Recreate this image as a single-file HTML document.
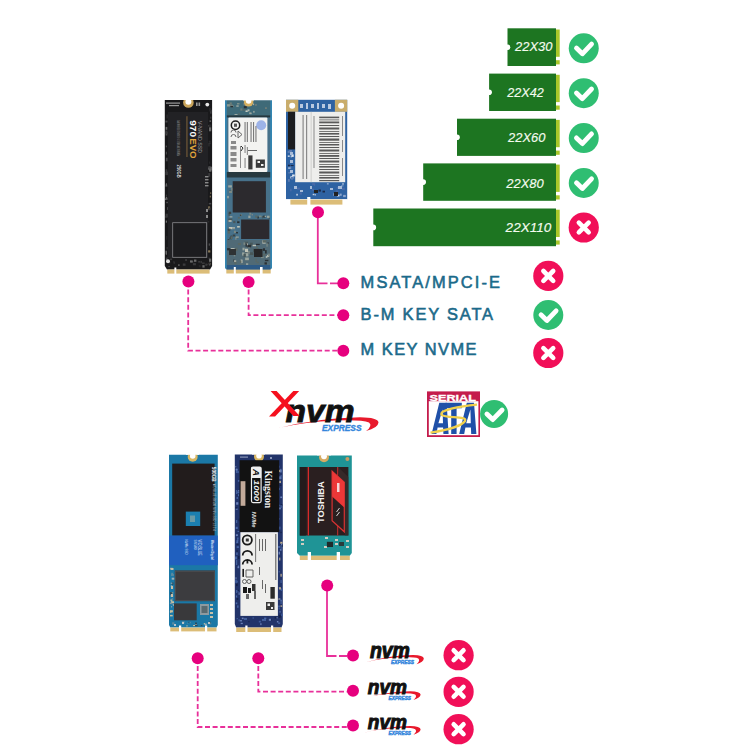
<!DOCTYPE html>
<html><head><meta charset="utf-8">
<style>
html,body{margin:0;padding:0;background:#fff;width:750px;height:750px;overflow:hidden;}
svg{display:block;font-family:"Liberation Sans",sans-serif;}
</style></head>
<body>
<svg width="750" height="750" viewBox="0 0 750 750">
<defs>
  <g id="chk"><circle r="15" fill="#2fbe72"/><path d="M-7.3 -0.2 L-1.4 5.5 L7.8 -4.2" fill="none" stroke="#fff" stroke-width="4.8" stroke-linecap="round" stroke-linejoin="round"/></g>
  <g id="crs"><circle r="15.1" fill="#f10f58"/><path d="M-4.9 -4.9 L4.9 4.9 M4.9 -4.9 L-4.9 4.9" fill="none" stroke="#fff" stroke-width="4.6" stroke-linecap="round"/></g>
  <g id="nvm">
    <path d="M279 428 Q318 418 360 417.3 Q378 417.5 378.5 422.5 Q378 428 366 431 Q373 426 369 422.5 Q362 419.5 335 420.5 Q305 422 281 427.5 Z" fill="#e8192c"/>
    <text x="285.5" y="422" font-size="32" font-weight="bold" font-style="italic" fill="#111" stroke="#111" stroke-width="0.8" textLength="69" lengthAdjust="spacingAndGlyphs">nvm</text>
    <text x="322" y="431" font-size="8.4" font-weight="bold" font-style="italic" fill="#3486dc" stroke="#3486dc" stroke-width="0.35" textLength="39.5" lengthAdjust="spacingAndGlyphs">EXPRESS</text>
  </g>
  <g id="nvms">
    <path d="M279 428 Q318 418 360 417.3 Q378 417.5 378.5 422.5 Q378 428 366 431 Q373 426 369 422.5 Q362 419.5 335 420.5 Q305 422 281 427.5 Z" fill="#e8192c"/>
    <text x="285.5" y="422" font-size="32" font-weight="bold" font-style="italic" fill="#111" stroke="#111" stroke-width="1.6" textLength="69" lengthAdjust="spacingAndGlyphs">nvm</text>
    <text x="322" y="431" font-size="8.4" font-weight="bold" font-style="italic" fill="#3486dc" stroke="#3486dc" stroke-width="0.7" textLength="39.5" lengthAdjust="spacingAndGlyphs">EXPRESS</text>
  </g>
</defs>

<!-- ================= green size bars ================= -->
<g>
  <g fill="#1d7521">
    <rect x="507.5" y="28.3" width="48.5" height="37.7"/>
    <rect x="489.1" y="73.6" width="66.9" height="37.4"/>
    <rect x="457" y="118.7" width="99" height="37.2"/>
    <rect x="423.2" y="163.4" width="132.8" height="37.4"/>
    <rect x="373.3" y="208.5" width="182.7" height="37.7"/>
  </g>
  <g fill="#fff">
    <circle cx="507.5" cy="47.2" r="2.8"/><circle cx="489.1" cy="92.3" r="2.8"/><circle cx="457" cy="137.3" r="2.8"/><circle cx="423.2" cy="182.1" r="2.8"/><circle cx="373.3" cy="227.4" r="2.8"/>
  </g>
  <g fill="#a9c72a">
    <rect x="556" y="29.5" width="3.7" height="27.3"/><rect x="556" y="60.2" width="3.7" height="4.2"/>
    <rect x="556" y="74.8" width="3.7" height="27.3"/><rect x="556" y="105.5" width="3.7" height="4.2"/>
    <rect x="556" y="119.9" width="3.7" height="27.3"/><rect x="556" y="150.6" width="3.7" height="4.2"/>
    <rect x="556" y="164.6" width="3.7" height="27.3"/><rect x="556" y="195.3" width="3.7" height="4.2"/>
    <rect x="556" y="209.7" width="3.7" height="27.3"/><rect x="556" y="240.4" width="3.7" height="4.2"/>
  </g>
  <g fill="#f4fbef" font-size="13.4" font-style="italic" stroke="#f4fbef" stroke-width="0.15">
    <text x="515" y="51.1" textLength="37.4" lengthAdjust="spacingAndGlyphs">22X30</text>
    <text x="507.3" y="97" textLength="36.4" lengthAdjust="spacingAndGlyphs">22X42</text>
    <text x="508" y="142.3" textLength="37.4" lengthAdjust="spacingAndGlyphs">22X60</text>
    <text x="506.3" y="187.8" textLength="37.4" lengthAdjust="spacingAndGlyphs">22X80</text>
    <text x="505.6" y="231.6" textLength="45.7" lengthAdjust="spacingAndGlyphs">22X110</text>
  </g>
  <use href="#chk" x="583.75" y="48.3"/>
  <use href="#chk" x="583.75" y="93.2"/>
  <use href="#chk" x="583.75" y="138.1"/>
  <use href="#chk" x="583.75" y="183"/>
  <use href="#crs" x="583.75" y="227.5"/>
</g>

<!-- ================= TOP SSDs ================= -->
<!-- Samsung 970 EVO -->
<g id="samsung">
  <path d="M164.8 100 H212.1 V266 L210 269.6 H167 L164.8 266 Z" fill="#19191b"/>
  <rect x="168" y="112" width="40" height="146" fill="#222225"/>
  <rect x="172.7" y="222.7" width="34" height="34.6" fill="#1c1c1f" stroke="#8a8a8e" stroke-width="0.8"/>
  <circle cx="188.4" cy="102.5" r="5.3" fill="#c9a45a"/><circle cx="188.4" cy="101.8" r="3" fill="#fff"/><rect x="182" y="95" width="13" height="5" fill="#fff"/>
  <g fill="#9a9a9a"><rect x="166" y="102.5" width="14" height="1.2"/><rect x="169" y="105" width="10" height="1.2"/><rect x="196" y="102.5" width="1.6" height="3.5"/><rect x="198.5" y="102.5" width="1.6" height="3.5"/></g>
  <rect x="165.3" y="250.8" width="1.4" height="1.7" fill="#2a2a2c"/><rect x="166.0" y="197.8" width="1.7" height="2.2" fill="#4a4a4c"/><rect x="165.5" y="132.0" width="1.9" height="3.5" fill="#4a4a4c"/><rect x="165.1" y="215.8" width="2.5" height="2.0" fill="#3a3a3c"/><rect x="165.9" y="151.7" width="1.0" height="2.8" fill="#4a4a4c"/><rect x="166.0" y="194.6" width="0.9" height="2.1" fill="#3a3a3c"/><rect x="166.4" y="259.2" width="1.0" height="3.7" fill="#3a3a3c"/><rect x="165.0" y="198.3" width="1.3" height="1.7" fill="#6a6a6a"/><rect x="165.2" y="130.5" width="2.3" height="3.5" fill="#3a3a3c"/><rect x="165.7" y="169.2" width="1.5" height="3.0" fill="#3a3a3c"/><rect x="167.0" y="171.0" width="0.9" height="1.2" fill="#2a2a2c"/><rect x="165.9" y="157.7" width="1.7" height="3.6" fill="#4a4a4c"/><rect x="165.6" y="213.7" width="2.2" height="3.1" fill="#3a3a3c"/><rect x="165.4" y="172.0" width="2.5" height="3.1" fill="#3a3a3c"/><rect x="166.0" y="257.7" width="1.8" height="2.3" fill="#4a4a4c"/><rect x="165.8" y="220.6" width="1.2" height="2.1" fill="#6a6a6a"/><rect x="166.1" y="252.0" width="0.9" height="3.0" fill="#4a4a4c"/><rect x="165.6" y="250.7" width="1.3" height="3.7" fill="#6a6a6a"/><rect x="165.4" y="120.6" width="2.1" height="1.9" fill="#4a4a4c"/><rect x="165.8" y="145.6" width="1.2" height="1.7" fill="#4a4a4c"/><rect x="165.6" y="126.9" width="1.7" height="2.9" fill="#6a6a6a"/><rect x="166.1" y="201.8" width="1.9" height="1.4" fill="#4a4a4c"/><rect x="166.3" y="247.0" width="1.7" height="2.5" fill="#2a2a2c"/><rect x="167.0" y="207.1" width="0.9" height="2.8" fill="#4a4a4c"/><rect x="166.4" y="114.5" width="1.5" height="3.9" fill="#2a2a2c"/><rect x="166.7" y="256.8" width="1.2" height="2.2" fill="#2a2a2c"/><rect x="166.2" y="236.1" width="1.1" height="3.6" fill="#2a2a2c"/><rect x="165.4" y="184.6" width="1.9" height="2.2" fill="#4a4a4c"/><rect x="165.9" y="183.3" width="1.0" height="2.4" fill="#6a6a6a"/><rect x="165.8" y="197.0" width="1.3" height="1.7" fill="#6a6a6a"/><rect x="208.6" y="143.0" width="1.9" height="1.1" fill="#3a3a3c"/><rect x="208.2" y="173.1" width="2.0" height="3.7" fill="#3a3a3c"/><rect x="209.8" y="195.7" width="1.0" height="1.7" fill="#8a7a5a"/><rect x="208.7" y="243.4" width="1.5" height="2.3" fill="#4a4a4c"/><rect x="208.3" y="257.3" width="2.0" height="2.0" fill="#2a2a2c"/><rect x="209.1" y="161.6" width="1.0" height="2.1" fill="#2a2a2c"/><rect x="209.0" y="258.6" width="2.2" height="3.2" fill="#6a6a6a"/><rect x="209.9" y="246.2" width="0.9" height="1.9" fill="#2a2a2c"/><rect x="208.1" y="143.3" width="1.8" height="3.1" fill="#2a2a2c"/><rect x="209.3" y="166.7" width="2.5" height="3.6" fill="#6a6a6a"/><rect x="208.8" y="140.7" width="1.9" height="2.1" fill="#2a2a2c"/><rect x="208.1" y="206.4" width="2.0" height="3.1" fill="#8a7a5a"/><rect x="208.8" y="262.9" width="2.0" height="1.5" fill="#8a7a5a"/><rect x="210.2" y="116.7" width="1.2" height="2.0" fill="#3a3a3c"/><rect x="208.1" y="250.3" width="2.2" height="2.2" fill="#8a7a5a"/><rect x="209.1" y="169.8" width="2.3" height="1.9" fill="#6a6a6a"/><rect x="210.2" y="192.4" width="1.0" height="1.4" fill="#8a7a5a"/><rect x="208.9" y="262.8" width="1.5" height="2.8" fill="#4a4a4c"/><rect x="208.1" y="125.2" width="1.7" height="1.3" fill="#4a4a4c"/><rect x="208.1" y="167.4" width="2.1" height="2.3" fill="#6a6a6a"/><rect x="210.0" y="109.8" width="1.7" height="3.9" fill="#3a3a3c"/><rect x="208.5" y="207.6" width="2.0" height="2.6" fill="#3a3a3c"/><rect x="208.0" y="221.0" width="1.3" height="1.5" fill="#2a2a2c"/><rect x="208.8" y="124.5" width="2.5" height="3.3" fill="#2a2a2c"/><rect x="208.4" y="166.1" width="2.2" height="2.5" fill="#4a4a4c"/><rect x="209.2" y="108.1" width="1.7" height="3.3" fill="#2a2a2c"/><rect x="208.9" y="262.4" width="1.6" height="1.3" fill="#2a2a2c"/><rect x="209.6" y="120.3" width="1.2" height="1.7" fill="#6a6a6a"/><rect x="209.0" y="127.4" width="2.2" height="3.9" fill="#6a6a6a"/><rect x="208.8" y="202.9" width="2.4" height="1.5" fill="#4a4a4c"/><rect x="173.7" y="261.7" width="1.1" height="2.0" fill="#3a3a3c"/><rect x="168.7" y="261.6" width="1.9" height="1.7" fill="#2a2a2c"/><rect x="202.4" y="265.2" width="2.2" height="2.4" fill="#6a6a6a"/><rect x="200.5" y="260.9" width="1.4" height="2.3" fill="#3a3a3c"/><rect x="173.1" y="261.0" width="1.3" height="2.3" fill="#2a2a2c"/><rect x="169.9" y="258.5" width="2.2" height="1.6" fill="#3a3a3c"/><rect x="202.0" y="262.5" width="2.7" height="1.4" fill="#3a3a3c"/><rect x="192.9" y="263.1" width="3.0" height="2.2" fill="#3a3a3c"/><rect x="199.3" y="265.3" width="1.2" height="1.9" fill="#2a2a2c"/><rect x="185.2" y="259.0" width="1.7" height="2.0" fill="#3a3a3c"/><rect x="190.7" y="261.3" width="2.6" height="1.1" fill="#4a4a4c"/><rect x="206.4" y="263.9" width="2.3" height="1.1" fill="#2a2a2c"/><rect x="205.3" y="263.6" width="2.0" height="2.2" fill="#3a3a3c"/><rect x="198.2" y="261.0" width="1.9" height="1.6" fill="#3a3a3c"/><rect x="190.0" y="260.4" width="2.7" height="2.1" fill="#6a6a6a"/><rect x="168.1" y="266.0" width="1.9" height="1.1" fill="#3a3a3c"/><rect x="198.7" y="265.4" width="1.3" height="1.0" fill="#2a2a2c"/><rect x="178.3" y="264.2" width="1.2" height="1.8" fill="#6a6a6a"/><rect x="182.8" y="263.5" width="2.7" height="2.3" fill="#3a3a3c"/><rect x="194.0" y="259.5" width="2.4" height="2.3" fill="#6a6a6a"/><circle cx="207.3" cy="104.6" r="1.9" fill="#e8e8e8"/>
  <circle cx="168" cy="261.3" r="2" fill="#e0e0e0"/>
  <rect x="186.5" y="116.2" width="0.9" height="40.8" fill="#8a6a3e"/>
  <g transform="translate(189.2 120.2) rotate(90)">
    <text x="0" y="0" font-size="9.5" font-weight="bold" fill="#fff" textLength="16.8" lengthAdjust="spacingAndGlyphs" transform="translate(0 -0.5)">970</text>
    <text x="18" y="-0.5" font-size="9.5" font-weight="bold" fill="#e0a43c" textLength="20.4" lengthAdjust="spacingAndGlyphs">EVO</text>
  </g>
  <g transform="translate(198.4 121) rotate(90)"><text x="0" y="0" font-size="5.6" fill="#a8a8aa" textLength="32" lengthAdjust="spacingAndGlyphs">V-NAND SSD</text></g>
  <g transform="translate(176.8 120) rotate(90)"><text x="0" y="0" font-size="2.8" fill="#8a8a8a" textLength="36" lengthAdjust="spacingAndGlyphs">SAMSUNG ELECTRONICS CO. LTD MADE IN KOREA</text></g>
  <g transform="translate(177 164.6) rotate(90)"><text x="0" y="0" font-size="5" font-weight="bold" fill="#dcdcdc" textLength="13" lengthAdjust="spacingAndGlyphs">250GB</text></g>
  <g fill="#8a8a8a"><rect x="205" y="176" width="3.5" height="1.4"/><rect x="205" y="179" width="3.5" height="1.4"/><rect x="205" y="182" width="3.5" height="1.4"/><rect x="205" y="185" width="3.5" height="1.4"/><rect x="206" y="209" width="2" height="3"/><rect x="206" y="215" width="2" height="3"/></g>
  <rect x="167.3" y="269.6" width="42.3" height="4" fill="#dcbd78"/>
  <rect x="174.4" y="267.5" width="1.9" height="6.5" fill="#fff"/>
</g>

<!-- M.2 SATA -->
<g id="sata">
  <path d="M225 100.5 H272 V267 L270.5 269.7 H226.5 L225 267 Z" fill="#47718a"/>
  <rect x="225" y="100.5" width="1.8" height="168" fill="#3386b2"/>
  <rect x="270.2" y="100.5" width="1.8" height="168" fill="#3386b2"/>
  <rect x="226.8" y="100.5" width="43.4" height="15.4" fill="#3f6a78"/>
  <rect x="265.0" y="107.2" width="1.9" height="1.8" fill="#6e7c78"/><rect x="253.2" y="110.9" width="1.4" height="1.8" fill="#9aa6a0"/><rect x="249.1" y="112.5" width="1.9" height="1.2" fill="#8a9890"/><rect x="245.5" y="110.4" width="2.2" height="1.6" fill="#c8ccc0"/><rect x="229.6" y="102.4" width="2.2" height="2.2" fill="#6e7c78"/><rect x="240.3" y="108.4" width="2.2" height="2.2" fill="#6e7c78"/><rect x="247.5" y="109.3" width="2.0" height="2.0" fill="#b0b8b0"/><rect x="249.4" y="112.6" width="2.3" height="1.6" fill="#9aa6a0"/><rect x="236.3" y="105.3" width="2.4" height="1.5" fill="#9aa6a0"/><rect x="231.4" y="105.4" width="2.1" height="1.2" fill="#9aa6a0"/><rect x="227.0" y="104.2" width="2.9" height="2.3" fill="#8a9890"/><rect x="243.3" y="102.8" width="1.9" height="2.5" fill="#6e7c78"/><rect x="230.5" y="105.9" width="2.6" height="1.4" fill="#2a3034"/><rect x="237.0" y="103.2" width="2.5" height="1.2" fill="#8a9890"/><rect x="255.0" y="104.1" width="1.9" height="1.7" fill="#6e7c78"/><rect x="243.8" y="106.1" width="3.0" height="2.2" fill="#2a3034"/><rect x="238.1" y="113.4" width="1.8" height="1.3" fill="#5a6864"/><rect x="234.5" y="114.0" width="3.0" height="1.0" fill="#9aa6a0"/><rect x="245.5" y="102.1" width="1.1" height="1.2" fill="#3a4446"/><rect x="230.0" y="104.4" width="2.7" height="1.6" fill="#6e7c78"/><rect x="253.1" y="103.5" width="1.0" height="1.6" fill="#b0b8b0"/><rect x="242.6" y="109.4" width="2.7" height="1.2" fill="#5a6864"/>
  <rect x="182" y="95" width="0" height="0"/>
  <circle cx="248.6" cy="101.8" r="4.8" fill="#d6b060"/><circle cx="248.6" cy="101" r="2.8" fill="#fff"/>
  <rect x="243" y="96" width="11" height="4.5" fill="#fff"/>
  <rect x="226.8" y="115.4" width="43.4" height="2" fill="#26383e"/>
  <rect x="228.4" y="117.5" width="39" height="54.5" rx="1" fill="#f3f3f1"/>
  <circle cx="235.5" cy="125.2" r="4.2" fill="none" stroke="#1e1e1e" stroke-width="1.5"/>
  <rect x="234" y="123.6" width="3" height="3.2" fill="#555"/>
  <circle cx="261.2" cy="125.2" r="5" fill="#9db3e8"/>
  <g fill="none" stroke="#666" stroke-width="1"><path d="M231 132.5 A2.5 2.5 0 0 1 236 132.5 M231 137 A2.5 2.5 0 0 1 236 137"/><path d="M238 131 L242 134.5 L238 138 Z"/></g>
  <g fill="#7a7a7a"><rect x="244.5" y="122" width="1.1" height="20"/><rect x="246.8" y="122" width="1.1" height="20"/><rect x="250.5" y="122" width="1.1" height="20"/><rect x="253" y="122" width="1.1" height="20"/><rect x="255.4" y="126" width="1.1" height="16"/></g>
  <g fill="#8a8a8a"><rect x="231" y="141" width="5" height="3"/><rect x="230.5" y="146" width="6" height="3.5"/><rect x="230.5" y="152" width="6" height="4"/><rect x="230.5" y="158" width="6" height="3.5"/><rect x="230.5" y="164" width="6" height="3"/><rect x="240" y="146" width="1" height="22"/><rect x="244.5" y="145" width="1.1" height="8"/><rect x="246.8" y="147" width="1.1" height="8"/></g>
  <path d="M241 146 L243 148 L241 151" stroke="#333" stroke-width="1" fill="none"/>
  <rect x="248.3" y="155.4" width="4.2" height="14" fill="#3a3a3a"/>
  <rect x="244.5" y="158" width="1.1" height="10" fill="#8a8a8a"/>
  <rect x="255.8" y="159.5" width="9.1" height="8.3" fill="#3a3a3a"/><rect x="257.5" y="161" width="2.5" height="2" fill="#f3f3f1"/><rect x="261" y="164" width="2.5" height="2" fill="#f3f3f1"/>
  <rect x="248" y="150" width="9" height="0.9" fill="#555"/>
  <rect x="226.8" y="172" width="43.4" height="5.5" fill="#26383e"/>
  <rect x="229.2" y="190.5" width="2.7" height="2.4" fill="#3a4446"/><rect x="228.3" y="218.5" width="4.0" height="2.1" fill="#48585a"/><rect x="229.0" y="190.8" width="3.0" height="2.2" fill="#7a8884"/><rect x="227.8" y="228.8" width="2.4" height="1.8" fill="#2a3034"/><rect x="228.4" y="213.4" width="1.7" height="2.4" fill="#48585a"/><rect x="230.5" y="235.7" width="1.7" height="2.9" fill="#2a3034"/><rect x="231.1" y="187.8" width="1.7" height="3.0" fill="#7a8884"/><rect x="228.9" y="227.0" width="3.9" height="2.2" fill="#c0c4b8"/><rect x="228.2" y="185.3" width="3.7" height="2.2" fill="#9aa6a0"/><rect x="228.7" y="211.7" width="2.5" height="2.3" fill="#3a4446"/><rect x="227.6" y="247.8" width="3.1" height="1.3" fill="#5a6864"/><rect x="229.5" y="237.4" width="2.4" height="1.9" fill="#3a4446"/><rect x="228.4" y="228.6" width="2.1" height="1.8" fill="#48585a"/><rect x="229.6" y="216.2" width="2.8" height="1.3" fill="#9aa6a0"/><rect x="227.2" y="195.9" width="1.6" height="2.4" fill="#9aa6a0"/><rect x="227.7" y="239.1" width="1.8" height="2.2" fill="#3a4446"/><rect x="229.0" y="241.8" width="2.6" height="2.1" fill="#9aa6a0"/><rect x="228.0" y="220.1" width="2.6" height="1.6" fill="#48585a"/><rect x="227.6" y="258.5" width="2.7" height="2.9" fill="#5a6864"/><rect x="227.9" y="231.0" width="2.0" height="2.6" fill="#5a6864"/><rect x="227.4" y="247.5" width="3.8" height="2.6" fill="#9aa6a0"/><rect x="231.3" y="265.6" width="1.6" height="2.3" fill="#9aa6a0"/><rect x="230.6" y="236.2" width="1.9" height="2.9" fill="#5a6864"/><rect x="228.5" y="220.2" width="3.1" height="1.6" fill="#c0c4b8"/><rect x="228.6" y="242.7" width="2.4" height="2.4" fill="#7a8884"/><rect x="228.1" y="260.3" width="2.2" height="2.8" fill="#9aa6a0"/>
  <rect x="232.7" y="181.2" width="33.2" height="31.3" fill="#2c2a2e"/>
  <rect x="257.3" y="216.5" width="1.5" height="2.0" fill="#2a3034"/><rect x="263.2" y="215.6" width="2.3" height="2.0" fill="#2a3034"/><rect x="240.6" y="214.2" width="1.3" height="1.8" fill="#7a8884"/><rect x="268.6" y="217.2" width="1.3" height="2.0" fill="#48585a"/><rect x="261.9" y="216.1" width="1.3" height="2.3" fill="#48585a"/><rect x="237.9" y="216.9" width="1.9" height="1.7" fill="#5a6864"/><rect x="258.9" y="215.5" width="2.7" height="1.7" fill="#7a8884"/><rect x="255.2" y="215.5" width="2.3" height="2.3" fill="#5a6864"/><rect x="266.9" y="215.7" width="2.6" height="2.2" fill="#9aa6a0"/><rect x="248.3" y="215.6" width="2.2" height="2.5" fill="#9aa6a0"/><rect x="251.6" y="214.1" width="1.4" height="1.3" fill="#7a8884"/><rect x="264.6" y="215.7" width="1.5" height="1.4" fill="#9aa6a0"/><rect x="239.9" y="214.6" width="1.5" height="1.4" fill="#3a4446"/><rect x="249.3" y="212.8" width="1.9" height="1.9" fill="#7a8884"/>
  <rect x="237.1" y="236.5" width="1.2" height="2.4" fill="#5a6864"/><rect x="232.5" y="227.7" width="2.5" height="1.6" fill="#7a8884"/><rect x="237.1" y="221.3" width="2.4" height="1.8" fill="#2a3034"/><rect x="237.1" y="226.0" width="2.7" height="1.6" fill="#c0c4b8"/><rect x="235.7" y="232.1" width="2.3" height="1.3" fill="#2a3034"/><rect x="236.8" y="219.6" width="1.0" height="1.1" fill="#5a6864"/><rect x="235.1" y="236.8" width="1.4" height="3.0" fill="#7a8884"/><rect x="236.0" y="236.5" width="2.8" height="1.2" fill="#9aa6a0"/><rect x="233.2" y="220.8" width="2.2" height="2.3" fill="#48585a"/><rect x="233.9" y="230.7" width="2.0" height="2.3" fill="#7a8884"/><rect x="232.7" y="234.5" width="2.6" height="2.0" fill="#3a4446"/><rect x="233.2" y="227.2" width="1.6" height="1.2" fill="#c0c4b8"/>
  <rect x="241.1" y="219.5" width="28.1" height="19.5" fill="#2c2a2e"/>
  <rect x="226.8" y="240" width="43.4" height="25" fill="#506a76"/>
  <rect x="255.8" y="243.8" width="3.9" height="1.2" fill="#2a3034"/><rect x="255.5" y="258.7" width="1.2" height="3.2" fill="#5a6864"/><rect x="256.1" y="246.5" width="1.9" height="2.0" fill="#5a6864"/><rect x="235.4" y="247.7" width="2.2" height="3.4" fill="#5a6864"/><rect x="248.1" y="245.0" width="1.8" height="3.3" fill="#7a8884"/><rect x="245.2" y="258.1" width="3.6" height="2.3" fill="#7a8884"/><rect x="253.0" y="248.8" width="2.8" height="3.3" fill="#48585a"/><rect x="264.9" y="259.8" width="3.5" height="1.4" fill="#2a3034"/><rect x="265.8" y="256.2" width="1.6" height="1.6" fill="#c0c4b8"/><rect x="233.3" y="259.3" width="1.2" height="2.4" fill="#3a4446"/><rect x="256.5" y="261.7" width="2.3" height="1.4" fill="#5a6864"/><rect x="234.3" y="261.4" width="2.3" height="2.4" fill="#5a6864"/><rect x="233.8" y="254.5" width="1.4" height="1.9" fill="#7a8884"/><rect x="244.4" y="241.7" width="3.7" height="2.0" fill="#48585a"/><rect x="231.6" y="251.2" width="3.4" height="2.3" fill="#7a8884"/><rect x="267.5" y="242.1" width="1.2" height="1.8" fill="#3a4446"/><rect x="266.4" y="243.4" width="1.3" height="3.3" fill="#7a8884"/><rect x="247.0" y="250.9" width="2.8" height="3.2" fill="#7a8884"/><rect x="245.2" y="257.5" width="3.6" height="2.5" fill="#9aa6a0"/><rect x="254.5" y="253.5" width="2.5" height="2.9" fill="#3a4446"/><rect x="242.5" y="247.7" width="2.1" height="2.7" fill="#9aa6a0"/><rect x="244.5" y="252.7" width="3.8" height="1.9" fill="#3a4446"/><rect x="262.3" y="240.3" width="3.4" height="3.3" fill="#c0c4b8"/><rect x="262.6" y="240.1" width="3.8" height="2.6" fill="#5a6864"/><rect x="240.6" y="259.6" width="1.9" height="3.5" fill="#c0c4b8"/><rect x="227.1" y="248.1" width="2.8" height="2.3" fill="#2a3034"/><rect x="234.0" y="260.4" width="2.2" height="1.3" fill="#c0c4b8"/><rect x="255.4" y="248.6" width="3.8" height="3.5" fill="#48585a"/><rect x="230.9" y="248.1" width="3.7" height="1.5" fill="#c0c4b8"/><rect x="249.9" y="242.7" width="2.9" height="2.6" fill="#48585a"/><rect x="261.0" y="256.7" width="2.8" height="1.4" fill="#7a8884"/><rect x="249.9" y="252.3" width="3.5" height="2.7" fill="#48585a"/><rect x="267.1" y="254.8" width="2.1" height="2.1" fill="#c0c4b8"/><rect x="246.4" y="243.5" width="1.5" height="2.4" fill="#c0c4b8"/><rect x="245.3" y="253.1" width="3.1" height="3.3" fill="#9aa6a0"/><rect x="237.9" y="243.0" width="3.1" height="2.1" fill="#5a6864"/><rect x="246.0" y="263.3" width="2.2" height="1.6" fill="#9aa6a0"/><rect x="252.6" y="244.8" width="3.4" height="1.4" fill="#c0c4b8"/><rect x="245.5" y="243.5" width="1.4" height="3.2" fill="#2a3034"/><rect x="262.9" y="248.3" width="2.1" height="2.6" fill="#2a3034"/><rect x="242.1" y="252.4" width="2.4" height="3.2" fill="#9aa6a0"/><rect x="265.0" y="250.1" width="1.7" height="3.5" fill="#2a3034"/><rect x="264.5" y="262.3" width="2.4" height="2.2" fill="#2a3034"/><rect x="245.0" y="248.7" width="3.1" height="3.4" fill="#c0c4b8"/><rect x="268.1" y="253.6" width="1.7" height="2.7" fill="#7a8884"/><rect x="263.0" y="253.7" width="2.4" height="2.0" fill="#5a6864"/><rect x="243.5" y="253.9" width="2.3" height="3.1" fill="#48585a"/><rect x="240.0" y="260.3" width="1.5" height="2.7" fill="#5a6864"/><rect x="247.3" y="244.8" width="3.9" height="2.5" fill="#2a3034"/><rect x="243.5" y="242.4" width="1.7" height="2.5" fill="#7a8884"/>
  <rect x="254" y="249" width="8.5" height="8" fill="#262628"/>
  <rect x="229" y="249" width="7" height="6" fill="#2e3234"/>
  <rect x="226.8" y="265" width="43.4" height="4.7" fill="#2d5a86"/>
  <rect x="226.3" y="269.7" width="44.4" height="3.8" fill="#dcbd78"/>
  <rect x="233.8" y="267" width="2" height="7" fill="#fff"/>
  <rect x="260" y="267" width="2.6" height="7" fill="#fff"/>
</g>

<!-- mSATA -->
<g id="msata">
  <rect x="286" y="99.8" width="61.2" height="99.5" fill="#2e62a2"/>
  <rect x="286" y="99.8" width="12.3" height="12" fill="#c9ad6c"/><circle cx="292.2" cy="105.8" r="3" fill="#fff"/>
  <rect x="334.9" y="99.8" width="12.3" height="12" fill="#c9ad6c"/><circle cx="341.1" cy="105.8" r="3" fill="#fff"/>
  <g fill="#b8c8e0"><rect x="300" y="104" width="3" height="4"/><rect x="306" y="103" width="2" height="6"/><rect x="311" y="104" width="3" height="4"/><rect x="317" y="103" width="2" height="6"/><rect x="322" y="104" width="3" height="4"/><rect x="328" y="104" width="3" height="5"/></g>
  <rect x="288" y="111.8" width="7.2" height="37.6" fill="#1c1d20"/>
  <rect x="295.2" y="111.8" width="50" height="70.4" fill="#eeeeec"/>
  <rect x="310.8" y="111.8" width="0.6" height="70.4" fill="#bbb"/>
  <g fill="#8a8a8a"><rect x="302.5" y="115" width="1.2" height="64"/><rect x="306" y="115" width="1.2" height="64"/><rect x="313.5" y="116" width="1" height="52"/><rect x="342" y="116" width="1" height="20"/><rect x="342" y="140" width="1" height="12"/><rect x="342" y="158" width="1" height="18"/></g>
  <g fill="#5a5a5a">
    <rect x="319.2" y="116.6" width="20" height="1.6"/><rect x="319.2" y="119.5" width="20" height="0.8"/><rect x="319.2" y="121.5" width="20" height="1.8"/><rect x="319.2" y="125" width="20" height="1"/><rect x="319.2" y="127.5" width="20" height="2"/><rect x="319.2" y="131" width="20" height="0.8"/><rect x="319.2" y="133" width="20" height="1.6"/><rect x="319.2" y="136" width="20" height="1"/><rect x="319.2" y="138.5" width="20" height="2.2"/><rect x="319.2" y="142" width="20" height="0.8"/><rect x="319.2" y="144" width="20" height="1.5"/><rect x="319.2" y="147" width="20" height="1"/><rect x="319.2" y="149.5" width="20" height="2"/><rect x="319.2" y="153" width="20" height="0.8"/><rect x="319.2" y="155" width="20" height="1.8"/><rect x="319.2" y="158" width="20" height="1"/><rect x="319.2" y="160.5" width="20" height="2"/><rect x="319.2" y="164" width="20" height="0.8"/><rect x="319.2" y="166" width="20" height="1.6"/><rect x="319.2" y="169" width="20" height="1"/><rect x="319.2" y="171.5" width="20" height="2"/><rect x="319.2" y="175" width="20" height="0.8"/><rect x="319.2" y="177" width="20" height="1.6"/><rect x="319.2" y="180" width="20" height="1.2"/>
  </g>
  <rect x="296.3" y="193.8" width="1.5" height="1.8" fill="#c8d4e6"/><rect x="335.8" y="190.5" width="2.7" height="1.4" fill="#4a6aa8"/><rect x="322.5" y="190.7" width="2.5" height="1.8" fill="#1a2a4a"/><rect x="326.9" y="183.1" width="1.8" height="1.4" fill="#8aa4cc"/><rect x="314.7" y="194.1" width="1.1" height="1.4" fill="#c8d4e6"/><rect x="312.7" y="193.8" width="1.7" height="1.4" fill="#c8d4e6"/><rect x="341.0" y="185.4" width="2.5" height="1.0" fill="#8aa4cc"/><rect x="333.3" y="193.3" width="2.8" height="2.5" fill="#8aa4cc"/><rect x="313.8" y="183.2" width="1.3" height="2.5" fill="#4a6aa8"/><rect x="341.9" y="187.7" width="2.9" height="2.4" fill="#4a6aa8"/><rect x="297.0" y="187.7" width="2.8" height="1.8" fill="#4a6aa8"/><rect x="312.1" y="183.1" width="2.0" height="1.8" fill="#4a6aa8"/><rect x="343.1" y="194.9" width="2.7" height="2.2" fill="#8aa4cc"/><rect x="339.7" y="193.6" width="2.0" height="2.2" fill="#8aa4cc"/><rect x="337.4" y="194.4" width="1.7" height="1.8" fill="#4a6aa8"/><rect x="299.8" y="192.3" width="2.1" height="2.3" fill="#4a6aa8"/><rect x="290.1" y="188.8" width="1.4" height="2.5" fill="#4a6aa8"/><rect x="336.7" y="186.9" width="3.0" height="1.8" fill="#4a6aa8"/><rect x="336.9" y="194.7" width="2.6" height="1.8" fill="#c8d4e6"/><rect x="342.4" y="183.1" width="1.2" height="1.7" fill="#c8d4e6"/><rect x="318.5" y="189.5" width="2.4" height="2.1" fill="#1a2a4a"/><rect x="311.9" y="188.8" width="2.2" height="1.9" fill="#4a6aa8"/><rect x="290.6" y="165.0" width="3.0" height="1.1" fill="#1a2a4a"/><rect x="288.0" y="179.0" width="1.8" height="2.8" fill="#5a7ab0"/><rect x="289.3" y="150.0" width="2.7" height="2.9" fill="#5a7ab0"/><rect x="288.0" y="164.7" width="1.9" height="1.5" fill="#1a2a4a"/><rect x="287.7" y="151.0" width="2.0" height="2.0" fill="#5a7ab0"/><rect x="290.4" y="176.3" width="2.9" height="2.2" fill="#dfe6f0"/><rect x="290.6" y="155.4" width="1.3" height="2.0" fill="#a8bcd8"/><rect x="289.7" y="166.5" width="1.6" height="2.6" fill="#5a7ab0"/><rect x="288.2" y="172.1" width="2.2" height="1.4" fill="#5a7ab0"/><rect x="287.8" y="155.5" width="1.9" height="1.3" fill="#dfe6f0"/><rect x="288.1" y="167.4" width="2.3" height="1.4" fill="#a8bcd8"/><rect x="291.6" y="154.4" width="2.1" height="2.5" fill="#dfe6f0"/><rect x="292.1" y="174.5" width="2.6" height="1.9" fill="#dfe6f0"/><rect x="291.0" y="177.0" width="2.1" height="2.7" fill="#5a7ab0"/><g fill="#a8bcd8"><rect x="290" y="152" width="3" height="3"/><rect x="290" y="160" width="3" height="3"/><rect x="290" y="170" width="3" height="3"/><rect x="294" y="186" width="3" height="3"/><rect x="300" y="190" width="3" height="2"/><rect x="310" y="186" width="2" height="3"/><rect x="330" y="188" width="3" height="2"/><rect x="338" y="186" width="4" height="3"/></g>
  <g fill="#222"><rect x="314" y="190" width="4" height="3"/><rect x="334" y="192" width="4" height="4"/></g>
  <rect x="286" y="199.3" width="61.2" height="5.3" fill="#fff"/><rect x="290.4" y="199.6" width="52" height="5" fill="#dcbd78"/>
  <rect x="307.2" y="197" width="3.2" height="8" fill="#fff"/>
</g>

<!-- top connectors -->
<g stroke="#e8309a" stroke-width="1.8" fill="none">
  <path d="M317.8 212 V283.3 H327.5"/><path d="M330 283.3 H343" stroke-dasharray="8 3"/>
  <path d="M248.6 282 V315.2 H343" stroke-dasharray="5 2.6"/>
  <path d="M188.2 282 V350.7 H343" stroke-dasharray="5 2.6"/>
</g>
<g fill="#e6007e">
  <circle cx="318" cy="212.3" r="6"/>
  <circle cx="188.4" cy="281.6" r="6"/>
  <circle cx="248.6" cy="282" r="6"/>
  <circle cx="343.3" cy="283.2" r="6"/>
  <circle cx="343.3" cy="315.2" r="6"/>
  <circle cx="343.3" cy="350.7" r="6"/>
</g>
<g fill="#1b6a8a" stroke="#1b6a8a" stroke-width="0.6" font-size="17.3" transform="translate(360.6 0) scale(0.95 1) translate(-360.6 0)">
  <text x="360.6" y="287.7" textLength="146.7" lengthAdjust="spacing">MSATA/MPCI-E</text>
  <text x="360.6" y="320" textLength="139.4" lengthAdjust="spacing">B-M KEY SATA</text>
  <text x="360.6" y="355" textLength="122" lengthAdjust="spacing">M KEY NVME</text>
</g>
<use href="#crs" x="548.3" y="275.9"/>
<use href="#chk" x="548.3" y="315"/>
<use href="#crs" x="548.3" y="353"/>

<!-- ================= middle logos ================= -->
<use href="#nvm"/>
<g fill="#f5101e">
  <path d="M270.6 391.1 H276.6 L299.7 415.9 H293.3 Z"/>
  <path d="M293.3 391.1 H299.2 L275.1 416.5 H269 Z"/>
</g>

<g id="sataLogo">
  <rect x="427" y="391.4" width="53" height="45.6" fill="#c41c4c"/>
  <rect x="428.8" y="401.2" width="49.6" height="34" fill="#fff"/>
  <text x="429.6" y="400.6" font-size="9.4" font-weight="bold" fill="#fff" stroke="#fff" stroke-width="0.3" textLength="46.4" lengthAdjust="spacingAndGlyphs">SERIAL</text>
  <g fill="#1f50a8" fill-rule="evenodd">
    <path d="M431.6 434 L439.3 402.8 H446.6 L448.6 434 H443.4 L443.1 427.4 H437.6 L436.4 434 Z M438.4 423.2 H443 L442.6 409.5 Z"/>
    <path d="M445.6 402.8 H461.8 V408.2 H456.6 V434 H451.2 V408.2 H445.6 Z"/>
    <path d="M459.2 434 L466.8 402.8 H474 L476.4 434 H471.2 L470.9 427.4 H465.4 L464.2 434 Z M466.2 423.2 H470.8 L470.4 409.5 Z"/>
  </g>
  <path d="M430.5 432.6 C444 430.5 461 427 465 421 C468 415.5 446 418.5 441.6 414.8 C438.5 410.5 459 406.2 477 404.6" fill="none" stroke="#f0d04c" stroke-width="2.3"/>
</g>
<g transform="translate(494.1 414)"><circle r="14" fill="#2fbe72"/><path d="M-7.2 0 L-1.4 5.6 L8 -4" fill="none" stroke="#fff" stroke-width="4.8" stroke-linecap="round" stroke-linejoin="round"/></g>

<!-- ================= BOTTOM SSDs ================= -->
<g id="wd">
  <path d="M169 454.8 H217.8 V625 L216.5 627.6 H170.3 L169 625 Z" fill="#1b78a6"/>
  <circle cx="192.7" cy="456.8" r="5" fill="#d8b662"/><circle cx="192.7" cy="456" r="2.8" fill="#fff"/><rect x="186" y="450" width="13" height="4.8" fill="#fff"/>
  <rect x="172.2" y="463.6" width="42.4" height="72" fill="#221c1c"/>
  <rect x="185.8" y="511.6" width="14.4" height="14.4" fill="#1b7fb0"/>
  <rect x="190" y="515.5" width="5" height="6.5" fill="#6a9aa6"/>
  <g transform="translate(212.2 466.8) rotate(90)">
    <text x="0" y="0" font-size="5.4" font-weight="bold" fill="#e8e8e8" textLength="15" lengthAdjust="spacingAndGlyphs">500GB</text>
    <text x="17" y="-0.6" font-size="3.2" fill="#bdbdbd" textLength="47" lengthAdjust="spacingAndGlyphs">WD BLUE SN500 NVMe SSD 1 2 3 4</text>
  </g>
  <rect x="169" y="535.6" width="48.8" height="29.6" fill="#2060bf"/>
  <g transform="translate(198 539.6) rotate(90)">
    <text x="0" y="0" font-size="6" fill="#e6eefa" textLength="16" lengthAdjust="spacingAndGlyphs">WD BLUE</text>
    <text x="0" y="4" font-size="3.4" fill="#dbe4f5" textLength="10" lengthAdjust="spacingAndGlyphs">SN500</text>
  </g>
  <g transform="translate(185 539.6) rotate(90)"><text x="0" y="0" font-size="3.5" fill="#dbe4f5" textLength="15" lengthAdjust="spacingAndGlyphs">NVMe SSD</text></g>
  <g transform="translate(211.2 540) rotate(90)"><text x="0" y="0" font-size="3.6" font-weight="bold" fill="#e6eefa" textLength="20" lengthAdjust="spacingAndGlyphs">WesternDigital</text></g>
  <rect x="171.1" y="606.2" width="1.0" height="1.2" fill="#9ab0b8"/><rect x="171.0" y="574.1" width="2.9" height="1.8" fill="#5a8aa0"/><rect x="170.9" y="592.3" width="2.3" height="1.2" fill="#c8c0a0"/><rect x="169.9" y="610.8" width="1.4" height="1.9" fill="#c8c0a0"/><rect x="170.8" y="601.0" width="1.7" height="1.3" fill="#9ab0b8"/><rect x="171.6" y="598.1" width="1.4" height="1.3" fill="#5a8aa0"/><rect x="170.0" y="614.9" width="2.7" height="1.5" fill="#c8c0a0"/><rect x="172.9" y="603.7" width="1.1" height="2.1" fill="#9ab0b8"/><rect x="170.8" y="585.3" width="1.4" height="1.6" fill="#9ab0b8"/><rect x="170.4" y="599.5" width="2.0" height="1.4" fill="#c8c0a0"/><rect x="172.1" y="622.3" width="2.3" height="2.3" fill="#5a8aa0"/><rect x="169.9" y="602.5" width="2.6" height="1.5" fill="#8a9aa0"/><rect x="169.9" y="567.7" width="2.7" height="1.4" fill="#8a9aa0"/><rect x="171.7" y="582.4" width="1.7" height="2.4" fill="#2a4a5a"/><rect x="170.0" y="592.2" width="2.3" height="2.5" fill="#2a4a5a"/><rect x="171.2" y="572.8" width="1.9" height="2.2" fill="#5a8aa0"/><rect x="171.7" y="577.7" width="2.7" height="2.0" fill="#9ab0b8"/><rect x="170.7" y="594.7" width="2.4" height="2.3" fill="#8a9aa0"/><rect x="171.6" y="603.2" width="1.6" height="1.6" fill="#5a8aa0"/><rect x="171.3" y="601.3" width="2.7" height="1.7" fill="#c8c0a0"/><rect x="170.0" y="610.2" width="2.9" height="2.2" fill="#c8c0a0"/><rect x="170.7" y="582.7" width="1.7" height="1.0" fill="#9ab0b8"/><rect x="186.4" y="625.3" width="1.2" height="1.2" fill="#c8c0a0"/><rect x="187.3" y="622.7" width="1.0" height="1.0" fill="#5a8aa0"/><rect x="209.3" y="622.5" width="2.0" height="1.9" fill="#5a8aa0"/><rect x="194.9" y="623.0" width="2.1" height="1.8" fill="#9ab0b8"/><rect x="181.9" y="621.3" width="2.7" height="2.0" fill="#5a8aa0"/><rect x="203.8" y="623.0" width="1.1" height="1.5" fill="#c8c0a0"/><rect x="188.4" y="621.8" width="1.1" height="1.0" fill="#2a4a5a"/><rect x="195.1" y="624.7" width="2.5" height="1.5" fill="#2a4a5a"/><rect x="204.7" y="623.6" width="2.1" height="1.6" fill="#9ab0b8"/><rect x="200.8" y="625.1" width="1.6" height="1.1" fill="#2a4a5a"/><rect x="193.1" y="625.0" width="1.9" height="1.1" fill="#c8c0a0"/><rect x="209.1" y="621.5" width="1.3" height="2.0" fill="#2a4a5a"/><rect x="189.7" y="621.9" width="1.1" height="1.3" fill="#5a8aa0"/><rect x="195.0" y="622.5" width="2.0" height="1.5" fill="#2a4a5a"/><rect x="174.7" y="570.4" width="40.3" height="30.8" fill="#3c3c3f"/><rect x="175.5" y="571.2" width="38.7" height="29.2" fill="none" stroke="#55565a" stroke-width="0.6"/>
  <rect x="174" y="603.4" width="22.7" height="16.9" fill="#39393b"/>
  <rect x="200" y="604" width="9" height="11" fill="#8e9aa0"/><rect x="201.5" y="606" width="6" height="7" fill="#5a6a70"/>
  <g fill="#c9c0a8"><rect x="210" y="604" width="3" height="2"/><rect x="210" y="608" width="3" height="2"/><rect x="210" y="612" width="3" height="2"/><rect x="210" y="616" width="3" height="2"/><rect x="171" y="586" width="2" height="3"/><rect x="171" y="594" width="2" height="3"/><rect x="170.5" y="568" width="3" height="2"/></g>
  <g fill="#b8c4c8"><rect x="174" y="624" width="2" height="2"/><rect x="182" y="622" width="2" height="2"/><rect x="208" y="622" width="2" height="2"/></g>
  <rect x="170.3" y="627.6" width="46.2" height="3.8" fill="#dcbd78"/>
  <rect x="179" y="625.5" width="2.2" height="6.5" fill="#fff"/>
  <rect x="205" y="625.5" width="2.2" height="6.5" fill="#fff"/>
</g>

<g id="kingston">
  <path d="M234.8 454.6 H282.8 V624 L281.5 627.6 H236.2 L234.8 624 Z" fill="#22346a"/><rect x="237.3" y="538.5" width="1.0" height="2.4" fill="#4a68a8"/><rect x="237.3" y="491.4" width="2.2" height="1.9" fill="#4a68a8"/><rect x="237.5" y="530.9" width="1.9" height="1.0" fill="#4a68a8"/><rect x="235.6" y="468.8" width="1.9" height="1.5" fill="#6a80b8"/><rect x="236.0" y="542.1" width="1.7" height="1.1" fill="#3d5a9a"/><rect x="235.1" y="579.9" width="1.7" height="2.9" fill="#3d5a9a"/><rect x="236.6" y="549.8" width="1.0" height="2.9" fill="#15224a"/><rect x="237.1" y="537.5" width="1.4" height="1.3" fill="#4a68a8"/><rect x="237.5" y="590.9" width="0.9" height="1.4" fill="#3d5a9a"/><rect x="238.0" y="494.2" width="1.0" height="2.0" fill="#4a68a8"/><rect x="235.9" y="534.3" width="2.0" height="1.8" fill="#6a80b8"/><rect x="235.9" y="595.5" width="1.2" height="2.0" fill="#4a68a8"/><rect x="236.4" y="540.2" width="1.8" height="3.0" fill="#4a68a8"/><rect x="237.9" y="480.1" width="1.6" height="1.6" fill="#4a68a8"/><rect x="236.0" y="583.4" width="1.7" height="2.7" fill="#15224a"/><rect x="238.2" y="490.0" width="1.1" height="1.3" fill="#6a80b8"/><rect x="237.2" y="605.4" width="1.3" height="2.4" fill="#4a68a8"/><rect x="238.1" y="555.9" width="1.4" height="3.0" fill="#15224a"/><rect x="235.8" y="602.4" width="1.5" height="1.8" fill="#4a68a8"/><rect x="236.2" y="580.7" width="1.6" height="1.9" fill="#3d5a9a"/><rect x="235.7" y="508.6" width="2.0" height="1.1" fill="#6a80b8"/><rect x="238.0" y="565.4" width="1.1" height="1.8" fill="#4a68a8"/><rect x="236.1" y="502.2" width="2.2" height="2.5" fill="#6a80b8"/><rect x="238.2" y="589.7" width="0.8" height="1.4" fill="#15224a"/><rect x="236.7" y="598.0" width="1.6" height="1.9" fill="#15224a"/><rect x="235.5" y="577.2" width="1.0" height="2.2" fill="#6a80b8"/><rect x="235.1" y="556.5" width="1.8" height="2.9" fill="#4a68a8"/><rect x="235.7" y="526.8" width="2.0" height="2.2" fill="#4a68a8"/><rect x="235.3" y="466.1" width="1.0" height="1.2" fill="#6a80b8"/><rect x="235.3" y="507.3" width="1.9" height="1.1" fill="#15224a"/><rect x="236.5" y="497.2" width="1.6" height="1.6" fill="#4a68a8"/><rect x="235.7" y="580.6" width="1.1" height="2.7" fill="#3d5a9a"/><rect x="237.2" y="471.1" width="1.6" height="2.0" fill="#3d5a9a"/><rect x="236.3" y="552.3" width="1.3" height="2.7" fill="#4a68a8"/><rect x="236.1" y="468.7" width="1.2" height="2.4" fill="#6a80b8"/><rect x="238.6" y="592.4" width="1.0" height="2.5" fill="#6a80b8"/><rect x="236.5" y="543.7" width="2.1" height="1.2" fill="#15224a"/><rect x="236.7" y="546.3" width="2.2" height="1.6" fill="#4a68a8"/><rect x="238.6" y="518.6" width="0.9" height="2.6" fill="#15224a"/><rect x="237.5" y="566.4" width="1.7" height="1.8" fill="#6a80b8"/><rect x="278.1" y="622.5" width="2.1" height="1.3" fill="#4a68a8"/><rect x="280.6" y="588.4" width="1.8" height="2.5" fill="#3d5a9a"/><rect x="279.2" y="557.6" width="1.1" height="2.9" fill="#c0b090"/><rect x="280.1" y="469.7" width="1.8" height="2.8" fill="#3d5a9a"/><rect x="278.6" y="598.3" width="1.6" height="1.6" fill="#c0b090"/><rect x="281.2" y="613.6" width="1.5" height="2.5" fill="#3d5a9a"/><rect x="278.8" y="614.9" width="1.8" height="2.2" fill="#15224a"/><rect x="280.6" y="544.1" width="2.1" height="2.7" fill="#15224a"/><rect x="278.5" y="469.8" width="2.0" height="2.3" fill="#c0b090"/><rect x="278.7" y="507.5" width="2.1" height="1.8" fill="#6a80b8"/><rect x="278.6" y="551.7" width="1.4" height="2.8" fill="#6a80b8"/><rect x="279.9" y="549.1" width="1.6" height="1.6" fill="#6a80b8"/><rect x="279.2" y="476.4" width="1.9" height="2.8" fill="#6a80b8"/><rect x="279.4" y="610.8" width="1.3" height="1.9" fill="#4a68a8"/><rect x="278.3" y="605.5" width="1.5" height="1.8" fill="#4a68a8"/><rect x="278.7" y="607.7" width="0.8" height="1.8" fill="#4a68a8"/><rect x="278.5" y="587.3" width="1.4" height="1.1" fill="#4a68a8"/><rect x="278.6" y="481.6" width="1.7" height="1.2" fill="#4a68a8"/><rect x="280.3" y="541.8" width="2.1" height="1.9" fill="#c0b090"/><rect x="280.6" y="599.7" width="1.0" height="1.6" fill="#6a80b8"/><rect x="279.1" y="587.2" width="1.8" height="2.3" fill="#c0b090"/><rect x="278.7" y="518.3" width="1.2" height="1.2" fill="#3d5a9a"/><rect x="280.4" y="531.8" width="1.3" height="1.3" fill="#15224a"/><rect x="278.7" y="571.2" width="1.0" height="1.2" fill="#4a68a8"/><rect x="278.2" y="465.7" width="1.5" height="2.0" fill="#3d5a9a"/><rect x="279.3" y="480.8" width="1.6" height="2.2" fill="#c0b090"/><rect x="279.1" y="598.6" width="2.0" height="1.1" fill="#3d5a9a"/><rect x="280.3" y="469.8" width="1.1" height="2.5" fill="#6a80b8"/><rect x="278.8" y="504.7" width="1.5" height="1.5" fill="#3d5a9a"/><rect x="278.5" y="615.8" width="2.1" height="2.1" fill="#15224a"/><rect x="280.4" y="468.8" width="0.9" height="2.0" fill="#6a80b8"/><rect x="280.3" y="496.5" width="1.8" height="1.6" fill="#6a80b8"/><rect x="279.5" y="484.4" width="2.0" height="1.5" fill="#15224a"/><rect x="280.5" y="573.8" width="1.2" height="2.9" fill="#c0b090"/><rect x="280.5" y="605.4" width="1.7" height="1.4" fill="#c0b090"/><rect x="280.6" y="504.2" width="1.7" height="1.6" fill="#15224a"/><rect x="281.0" y="543.9" width="1.2" height="1.3" fill="#6a80b8"/><rect x="278.6" y="526.6" width="1.9" height="2.9" fill="#3d5a9a"/><rect x="278.7" y="487.8" width="1.3" height="2.3" fill="#3d5a9a"/><rect x="278.1" y="546.1" width="2.1" height="1.7" fill="#4a68a8"/><rect x="274.6" y="616.7" width="2.8" height="1.9" fill="#15224a"/><rect x="241.8" y="617.6" width="1.8" height="1.5" fill="#6a80b8"/><rect x="276.6" y="616.9" width="1.0" height="1.6" fill="#6a80b8"/><rect x="268.5" y="619.1" width="1.8" height="1.5" fill="#3d5a9a"/><rect x="252.5" y="617.5" width="1.4" height="1.0" fill="#4a68a8"/><rect x="268.7" y="619.2" width="2.9" height="1.4" fill="#15224a"/><rect x="239.7" y="620.1" width="2.3" height="1.3" fill="#6a80b8"/><rect x="264.1" y="617.6" width="2.2" height="1.4" fill="#4a68a8"/><rect x="258.8" y="620.8" width="2.1" height="1.7" fill="#3d5a9a"/><rect x="248.3" y="621.2" width="1.2" height="1.0" fill="#15224a"/><rect x="260.3" y="623.2" width="1.2" height="1.9" fill="#6a80b8"/><rect x="240.7" y="622.8" width="2.1" height="1.3" fill="#6a80b8"/><rect x="276.9" y="621.0" width="1.5" height="1.5" fill="#6a80b8"/><rect x="238.5" y="619.3" width="1.3" height="2.0" fill="#3d5a9a"/><rect x="236.6" y="618.0" width="1.3" height="1.2" fill="#3d5a9a"/><rect x="268.9" y="618.8" width="2.1" height="2.0" fill="#6a80b8"/>
  <g fill="#4a6aa8" opacity="0.8"><rect x="236" y="470" width="1.2" height="3"/><rect x="236" y="490" width="1.2" height="4"/><rect x="236" y="520" width="1.2" height="3"/><rect x="236" y="560" width="1.2" height="5"/><rect x="236" y="590" width="1.2" height="3"/><rect x="280.5" y="475" width="1.2" height="4"/><rect x="280.5" y="505" width="1.2" height="3"/><rect x="280.5" y="545" width="1.2" height="4"/><rect x="280.5" y="580" width="1.2" height="3"/><rect x="280.5" y="600" width="1.2" height="4"/><rect x="244" y="618" width="3" height="2"/><rect x="262" y="619" width="4" height="2"/></g>
  <g fill="#8a96b8"><rect x="240" y="456.5" width="8" height="1.2"/><rect x="270" y="457" width="2" height="2"/></g>
  <circle cx="259" cy="456.6" r="5" fill="#d8b662"/><circle cx="259" cy="455.8" r="2.8" fill="#fff"/><rect x="252" y="450" width="13" height="4.6" fill="#fff"/>
  <rect x="239.6" y="460.2" width="39.6" height="72" fill="#121212"/>
  <rect x="240.6" y="481.2" width="4.8" height="24.6" fill="#c2aa9a"/>
  <rect x="251.5" y="467" width="9.6" height="35.6" rx="1.5" fill="none" stroke="#eee" stroke-width="1.2"/>
  <rect x="251.5" y="467" width="9.6" height="11" fill="#eee"/>
  <g transform="translate(253 469) rotate(90)">
    <text x="0" y="-0.2" font-size="8.4" font-weight="bold" font-style="italic" fill="#121212" textLength="7" lengthAdjust="spacingAndGlyphs">A</text>
    <text x="11" y="-0.5" font-size="7.4" font-weight="bold" font-style="italic" fill="#f0f0f0" textLength="21" lengthAdjust="spacingAndGlyphs">1000</text>
  </g>
  <g transform="translate(265 470.4) rotate(90)"><text x="0" y="0" font-size="9.6" font-family="Liberation Serif" font-weight="bold" fill="#f2f2f2" textLength="37.8" lengthAdjust="spacingAndGlyphs">Kingston</text></g>
  <g transform="translate(251.8 511.8) rotate(90)"><text x="0" y="0" font-size="5" font-weight="bold" font-style="italic" fill="#e0e0e0" textLength="15.5" lengthAdjust="spacingAndGlyphs">NVMe</text></g>
  <rect x="240.4" y="532.2" width="37.5" height="83.7" fill="#eeeeec"/>
  <g fill="none" stroke="#1a1a1a">
    <circle cx="247.3" cy="540" r="4.6" stroke-width="1.8"/>
    <path d="M242.7 555.5 A4.7 4.7 0 0 1 252.1 555.5" stroke-width="1.8"/>
    <path d="M242.7 564.6 A4.7 4.7 0 0 1 252.1 564.6 M247.4 560 V563.5" stroke-width="1.8"/>
  </g>
  <rect x="245.8" y="538.5" width="3" height="3" fill="#333"/>
  <g fill="#1a1a1a"><rect x="242.4" y="568.9" width="1.6" height="8"/><rect x="243" y="587" width="4" height="6"/><rect x="248" y="588" width="3" height="5"/></g>
  <g fill="none" stroke="#555" stroke-width="0.9"><path d="M246 570 H253 V577 H246 Z"/><circle cx="244.5" cy="581.5" r="2"/><circle cx="249" cy="581.5" r="2"/></g>
  <g fill="#666"><rect x="255.2" y="534" width="0.9" height="28"/><rect x="259" y="539" width="1" height="12"/><rect x="262" y="539" width="1" height="12"/><rect x="265" y="539" width="1" height="12"/><rect x="259" y="567" width="1" height="8"/><rect x="262" y="580" width="1" height="9"/><rect x="265" y="584" width="1" height="9"/><rect x="275.2" y="534" width="1.2" height="46"/><rect x="246" y="594" width="3" height="5"/><rect x="254" y="591" width="2" height="8"/></g>
  <rect x="252" y="584" width="3.5" height="7" fill="#333"/>
  <rect x="270.4" y="587" width="4.4" height="11.7" fill="#2a2a2a"/>
  <rect x="266" y="602" width="8.5" height="8" fill="#3a3a3a"/><rect x="267.5" y="603.5" width="2.5" height="2.5" fill="#eee"/><rect x="271" y="607" width="2" height="2" fill="#eee"/>
<rect x="236.2" y="627.6" width="45.3" height="4.4" fill="#dcbd78"/>
  <rect x="245.3" y="625.5" width="2.2" height="7" fill="#fff"/>
  <rect x="271" y="625.5" width="2.2" height="7" fill="#fff"/>
</g>

<g id="toshiba">
  <path d="M297 455.4 H351.8 V553 L349.8 555.8 H299.8 L297 553 Z" fill="#1f9496"/>
  <circle cx="324" cy="457.2" r="5" fill="#d6aa62"/><circle cx="324" cy="456.3" r="2.9" fill="#fff"/><rect x="317" y="450" width="14" height="5.4" fill="#fff"/>
  <circle cx="347.4" cy="459" r="2" fill="#c89a62"/>
  <rect x="299.8" y="467" width="48.6" height="68.5" fill="#2a1f20"/>
  <rect x="299.8" y="467" width="6" height="68.5" fill="#241b1c"/>
  <rect x="307.7" y="467" width="1.3" height="68.5" fill="#d82a2a"/>
  <path d="M338 467 L348.4 477 V535.5 H345 Z" fill="#3a2c2c" opacity="0.8"/>
  <rect x="337.2" y="467" width="1" height="68.5" fill="#c83030"/>
  <path d="M332.1 471.1 L344.3 482.2 V531.8 L332.1 520.7 Z" fill="#2a1f20" stroke="#d83232" stroke-width="1.2"/>
  <path d="M332.1 471.1 L344.3 482.2 V507.5 L332.1 496.4 Z" fill="#ec3838"/>
  <g fill="#f6d8d8"><rect x="337" y="483" width="2.5" height="9"/></g>
  <g stroke="#e8e8e8" stroke-width="0.9"><path d="M336.5 512 L339.5 508 M336.5 516 L339.5 512"/></g>
  <g transform="translate(317.4 523) rotate(-90)"><text x="0" y="0" font-size="8.9" font-weight="bold" fill="#f2f2f2" textLength="41.7" lengthAdjust="spacingAndGlyphs" transform="translate(0 6.4)">TOSHIBA</text></g>
  <g fill="#d0ccc0"><rect x="301" y="539" width="3" height="2"/><rect x="301" y="543" width="3" height="2"/><rect x="325" y="537" width="3" height="2"/><rect x="335" y="539" width="3" height="2"/><rect x="335" y="543" width="3" height="2"/><rect x="346" y="540" width="3" height="2"/><rect x="346" y="546" width="3" height="2"/><rect x="324" y="546" width="3" height="2"/></g>
  <rect x="326.9" y="541.8" width="6.1" height="5.2" fill="#1e2a2a"/>
  <rect x="339" y="542" width="5" height="4" fill="#2a3a3a"/>
  <rect x="299.8" y="555.8" width="50" height="4.2" fill="#dcbd78"/>
  <rect x="307.7" y="552" width="3.3" height="8.5" fill="#fff"/>
  <rect x="336.7" y="552" width="3.3" height="8.5" fill="#fff"/>
</g>

<!-- bottom connectors -->
<g stroke="#e8309a" stroke-width="1.8" fill="none">
  <path d="M327 586 V656 H336.5"/><path d="M339 656 H353" stroke-dasharray="8 3"/>
  <path d="M258.3 658.3 V691.6 H353" stroke-dasharray="5 2.6"/>
  <path d="M197.7 658.3 V727 H353" stroke-dasharray="5 2.6"/>
</g>
<g fill="#e6007e">
  <circle cx="327.2" cy="585.6" r="6"/>
  <circle cx="258.3" cy="658.3" r="6"/>
  <circle cx="197.7" cy="658.3" r="6"/>
  <circle cx="353" cy="655.6" r="6"/>
  <circle cx="353" cy="690.8" r="6"/>
  <circle cx="353" cy="725.4" r="6"/>
</g>
<use href="#nvms" transform="translate(204.3 377.6) scale(0.58 0.665)"/>
<use href="#nvms" transform="translate(206 426.7) scale(0.567 0.634)"/>
<use href="#nvms" transform="translate(206 461.4) scale(0.567 0.634)"/>
<use href="#crs" x="458.6" y="655.2"/>
<use href="#crs" x="458.6" y="691.8"/>
<use href="#crs" x="458.6" y="729.2"/>

</svg>
</body></html>
